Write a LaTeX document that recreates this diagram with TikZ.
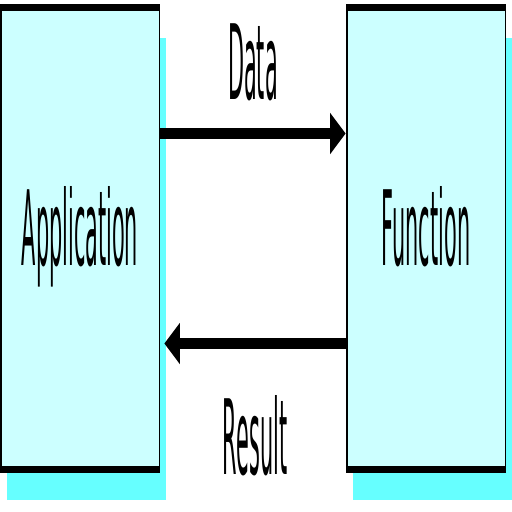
\documentclass[tikz,border=0pt]{standalone}
\usepackage{fontspec}
\setmainfont{DejaVu Sans}
\usetikzlibrary{arrows.meta,shadows}
\definecolor{boxcyan}{HTML}{CCFFFF}
\definecolor{shadecyan}{HTML}{66FFFF}
\newcommand{\procbox}[3]{%
 \node[procbox] ({#1}) at ({#2}) {#3};%
}

\begin{document}
\begin{tikzpicture}[x=1pt,y=-1pt]
  \useasboundingbox (0,0) rectangle (512,512);
  \begin{scope}[transform canvas={xscale=0.2},x=5pt,
    every node/.style={font=\fontsize{104}{110}\selectfont},
    procbox/.style={draw=black,line width=7pt,fill=boxcyan,inner sep=0pt,
      minimum width=792pt,minimum height=462pt,text height=79pt,text depth=25pt,
      drop shadow={shadow xshift=32pt,shadow yshift=-30pt,fill=shadecyan,opacity=1}},
    flow/.style={line width=11pt,-{Triangle[length=80pt,width=38pt]}},
    flowlabel/.style={inner sep=0pt,outer sep=0pt}]
  \procbox{app}{80,238.5}{Application};
  \procbox{fun}{426,238.5}{Function};
  \draw[flow] ([yshift=105pt]app.east) -- node[flowlabel,above=33pt]{Data} ([yshift=105pt]fun.west);
  \draw[flow] ([yshift=-105pt]fun.west) -- node[flowlabel,below=52pt]{Result} ([yshift=-105pt,xshift=20pt]app.east);
  \end{scope}
\end{tikzpicture}
\end{document}
